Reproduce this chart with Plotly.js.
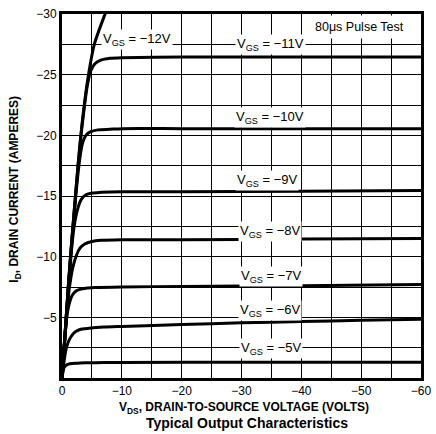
<!DOCTYPE html>
<html>
<head>
<meta charset="utf-8">
<script src="https://cdn.plot.ly/plotly-3.0.1.min.js"></script>
<style>
html,body{margin:0;padding:0;background:#fff;}
#chart{width:436px;height:434px;}
</style>
</head>
<body>
<div id="chart"></div>
<script>
// ---- data (VDS volts, ID amperes; P-channel, negative values) ----
const vds12 = [0,-0.35,-0.7,-1.05,-1.45,-1.85,-2.25,-2.65,-3.05,-3.5,-4.3,-5.4,-7.2,-7.6];
const id12  = [0,-2.5,-5.0,-7.6,-10.2,-12.6,-15.0,-17.4,-19.5,-21.6,-24.6,-27.5,-30.0,-30.5];

const vds11 = [0,-0.7,-1.45,-2.25,-3.05,-3.6,-4.2,-4.8,-5.5,-6.5,-8,-10,-20,-40,-60];
const id11  = [0,-5,-10.2,-15,-19.4,-21.8,-24.0,-25.3,-25.9,-26.2,-26.35,-26.4,-26.45,-26.45,-26.45];

const vds10 = [0,-0.7,-1.45,-2.25,-2.9,-3.4,-4.0,-4.8,-6,-8,-10,-20,-40,-60];
const id10  = [0,-5,-10,-14.7,-17.8,-19.3,-20.0,-20.3,-20.45,-20.5,-20.55,-20.55,-20.55,-20.55];

const vds9 = [0,-0.7,-1.4,-2.0,-2.6,-3.2,-4.0,-5,-6.5,-10,-20,-40,-60];
const id9  = [0,-4.9,-9.5,-12.4,-13.9,-14.7,-15.1,-15.25,-15.3,-15.35,-15.35,-15.4,-15.45];

const vds8 = [0,-0.6,-1.2,-1.8,-2.4,-3.0,-3.8,-5,-6.5,-10,-20,-40,-60];
const id8  = [0,-4.0,-7.3,-9.1,-10.1,-10.7,-11.05,-11.25,-11.35,-11.4,-11.4,-11.45,-11.5];

const vds7 = [0,-0.4,-0.8,-1.2,-1.7,-2.3,-3.0,-4,-5.5,-10,-20,-40,-60];
const id7  = [0,-2.8,-5.0,-6.1,-6.8,-7.15,-7.3,-7.4,-7.45,-7.5,-7.55,-7.6,-7.7];

const vds6 = [0,-0.3,-0.6,-1.0,-1.5,-2.2,-3,-4.5,-7,-10,-20,-30,-40,-50,-60];
const id6  = [0,-1.2,-2.2,-2.9,-3.4,-3.8,-4.0,-4.1,-4.2,-4.25,-4.4,-4.55,-4.65,-4.75,-4.85];

const vds5 = [0,-0.2,-0.4,-0.7,-1.1,-1.7,-2.5,-4,-7,-10,-30,-60];
const id5  = [0,-0.6,-0.9,-1.05,-1.15,-1.2,-1.22,-1.25,-1.27,-1.28,-1.3,-1.3];

const vgsLabels = ['V<sub>GS</sub> = −12V','V<sub>GS</sub> = −11V','V<sub>GS</sub> = −10V','V<sub>GS</sub> = −9V',
                   'V<sub>GS</sub> = −8V','V<sub>GS</sub> = −7V','V<sub>GS</sub> = −6V','V<sub>GS</sub> = −5V'];

const xTickVals = [0,-10,-20,-30,-40,-50,-60];
const xTickText = ['0','−10','−20','−30','−40','−50','−60'];
const yTickVals = [-5,-10,-15,-20,-25,-30];
const yTickText = ['−5','−10','−15','−20','−25','−30'];

// ---- build ----
const series = [[vds12,id12],[vds11,id11],[vds10,id10],[vds9,id9],[vds8,id8],[vds7,id7],[vds6,id6],[vds5,id5]];
const traces = series.map(s => ({
  x: s[0], y: s[1], type: 'scatter', mode: 'lines',
  line: {color: '#000', width: 3, shape: 'spline', smoothing: 0.7},
  hoverinfo: 'skip', showlegend: false
}));

const FONT = 'Liberation Sans, Arial, Helvetica, sans-serif';
const labelPos = [[-12.5,-27.9],[-34.8,-27.45],[-34.7,-21.5],[-34.3,-16.3],[-34.8,-12.1],[-35,-8.33],[-34.8,-5.6],[-35,-2.4]];
const annotations = vgsLabels.map((t,k) => ({
  x: labelPos[k][0], y: labelPos[k][1], xref: 'x', yref: 'y', text: t, showarrow: false,
  font: {family: FONT, size: 13, color: '#000'}, bgcolor: '#fff', borderpad: 1
}));
annotations.push({
  x: -49.7, y: -28.96, xref: 'x', yref: 'y', text: '80μs Pulse Test', showarrow: false,
  font: {family: FONT, size: 12.5, color: '#000'}, bgcolor: '#fff', borderpad: 4
});
annotations.push({
  x: 0.508, y: -0.083, xref: 'paper', yref: 'paper', yanchor: 'middle',
  text: '<b>V<sub>DS</sub>, DRAIN-TO-SOURCE VOLTAGE (VOLTS)</b>', showarrow: false,
  font: {family: FONT, size: 12, color: '#000'}
});
annotations.push({
  x: 0.515, y: -0.124, xref: 'paper', yref: 'paper', yanchor: 'middle',
  text: '<b>Typical Output Characteristics</b>', showarrow: false,
  font: {family: FONT, size: 14, color: '#000'}
});
annotations.push({
  x: -0.131, y: 0.52, xref: 'paper', yref: 'paper', xanchor: 'center', yanchor: 'middle', textangle: -90,
  text: '<b>I<sub>D</sub>, DRAIN CURRENT (AMPERES)</b>', showarrow: false,
  font: {family: FONT, size: 12, color: '#000'}
});

const layout = {
  width: 436, height: 434,
  margin: {l: 62, r: 15, t: 14, b: 56},
  paper_bgcolor: '#fff', plot_bgcolor: '#fff',
  font: {family: FONT, size: 12, color: '#000'},
  showlegend: false,
  xaxis: {
    range: [0, -60], tickvals: xTickVals, ticktext: xTickText,
    showgrid: true, gridcolor: '#000', gridwidth: 1,
    minor: {dtick: 5, tick0: 0, showgrid: true, gridcolor: '#000', gridwidth: 1},
    showline: true, mirror: true, linewidth: 3, linecolor: '#000',
    zeroline: false, ticks: '', tickfont: {family: FONT, size: 12, color: '#000'}, fixedrange: true
  },
  yaxis: {
    range: [0, -30], tickvals: yTickVals, ticktext: yTickText,
    showgrid: true, gridcolor: '#000', gridwidth: 1,
    minor: {dtick: 2.5, tick0: 0, showgrid: true, gridcolor: '#000', gridwidth: 1},
    showline: true, mirror: true, linewidth: 3, linecolor: '#000',
    zeroline: false, ticks: '', tickfont: {family: FONT, size: 12, color: '#000'}, fixedrange: true
  },
  annotations: annotations
};

Plotly.newPlot('chart', traces, layout, {displayModeBar: false, staticPlot: true});
</script>
</body>
</html>
